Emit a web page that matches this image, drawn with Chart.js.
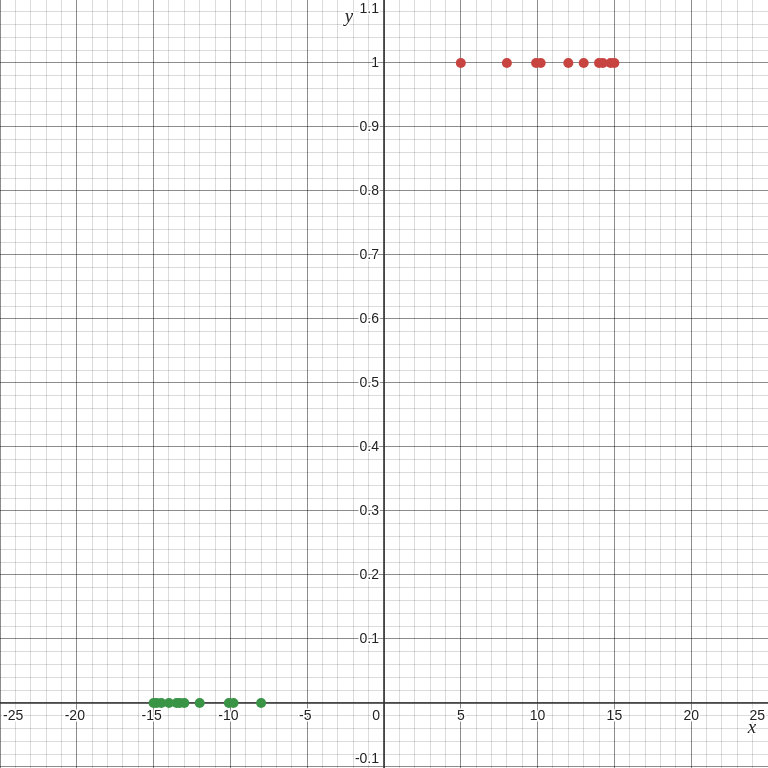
<!DOCTYPE html>
<html>
<head>
<meta charset="utf-8">
<script src="https://cdn.jsdelivr.net/npm/chart.js@4"></script>
<style>
html,body{margin:0;padding:0;background:#fff;}
#wrap{width:768px;height:768px;position:relative;}
</style>
</head>
<body>
<div id="wrap"><canvas id="c" width="768" height="768"></canvas></div>
<script>
// Data
const redX = [5, 8, 9.9, 10.2, 12, 13, 14, 14.25, 14.75, 15];
const redY = [1, 1, 1, 1, 1, 1, 1, 1, 1, 1];
const greenX = [-15, -14.8, -14.5, -14, -13.5, -13.3, -13, -12, -10.1, -9.8, -8];
const greenY = [0, 0, 0, 0, 0, 0, 0, 0, 0, 0, 0];
const xTickLabels = ["-25", "-20", "-15", "-10", "-5", "0", "5", "10", "15", "20", "25"];
const yTickLabels = ["-0.1", "0.1", "0.2", "0.3", "0.4", "0.5", "0.6", "0.7", "0.8", "0.9", "1", "1.1"];
const xRange = [-25, 25];
const yRange = [-0.1016, 1.0984];

const RED = '#c74440', GREEN = '#3a9446';

function pts(xs, ys){ return xs.map((x,i)=>({x:x, y:ys[i]})); }

function isMajor(v, step){ const r = v/step; return Math.abs(r - Math.round(r)) < 1e-6; }

const gridPlugin = {
  id: 'desmosAxes',
  beforeDatasetsDraw(chart){
    const ctx = chart.ctx;
    const xs = chart.scales.x, ys = chart.scales.y;
    const x0 = xs.getPixelForValue(0), y0 = ys.getPixelForValue(0);
    const W = chart.width, H = chart.height;
    ctx.save();
    ctx.strokeStyle = '#333';
    ctx.lineWidth = 1.6;
    ctx.beginPath(); ctx.moveTo(x0, 0); ctx.lineTo(x0, H); ctx.stroke();
    ctx.beginPath(); ctx.moveTo(0, y0); ctx.lineTo(W, y0); ctx.stroke();
    ctx.restore();
  },
  afterDraw(chart){
    const ctx = chart.ctx;
    const xs = chart.scales.x, ys = chart.scales.y;
    const x0 = xs.getPixelForValue(0), y0 = ys.getPixelForValue(0);
    const W = chart.width, H = chart.height;
    ctx.save();
    ctx.font = '14px "Liberation Sans", Arial, sans-serif';
    ctx.lineJoin = 'round';
    ctx.fillStyle = '#222';
    ctx.strokeStyle = '#fff';
    ctx.lineWidth = 3;
    // x labels
    ctx.textBaseline = 'top';
    xTickLabels.forEach(t => {
      const v = parseFloat(t);
      let px = xs.getPixelForValue(v);
      const w = ctx.measureText(t).width;
      let left;
      if (v === 0) { left = px - 4 - w; }
      else left = px - w/2 - (v < 0 ? 2 : 0);
      left = Math.max(3, Math.min(W - w - 3, left));
      ctx.textAlign = 'left';
      ctx.strokeText(t, left, y0 + 6);
      ctx.fillText(t, left, y0 + 6);
    });
    // y labels
    ctx.textBaseline = 'middle';
    ctx.textAlign = 'right';
    yTickLabels.forEach(t => {
      const v = parseFloat(t);
      let py = ys.getPixelForValue(v);
      py = Math.max(9, Math.min(H - 9, py));
      ctx.strokeText(t, x0 - 5, py);
      ctx.fillText(t, x0 - 5, py);
    });
    // axis titles
    ctx.font = 'italic 19px "Liberation Serif", "Times New Roman", serif';
    ctx.textAlign = 'center';
    ctx.textBaseline = 'middle';
    ctx.fillStyle = '#222';
    ctx.strokeText('x', W - 16, y0 + 25);
    ctx.fillText('x', W - 16, y0 + 25);
    ctx.strokeText('y', x0 - 35, 17);
    ctx.fillText('y', x0 - 35, 17);
    ctx.restore();
  }
};

new Chart(document.getElementById('c'), {
  type: 'scatter',
  data: {
    datasets: [
      { data: pts(greenX, greenY), backgroundColor: GREEN, borderColor: GREEN, pointRadius: 5, pointHoverRadius: 5, borderWidth: 0 },
      { data: pts(redX, redY), backgroundColor: RED, borderColor: RED, pointRadius: 5, pointHoverRadius: 5, borderWidth: 0 }
    ]
  },
  options: {
    responsive: false,
    animation: false,
    devicePixelRatio: 1,
    layout: { padding: 0, autoPadding: false },
    plugins: { legend: { display: false }, tooltip: { enabled: false } },
    scales: {
      x: {
        type: 'linear', min: xRange[0], max: xRange[1],
        afterBuildTicks(scale){ const t=[]; for(let i=-25;i<=25;i++) t.push({value:i}); scale.ticks=t; },
        afterFit(scale){ scale.height = 0; },
        ticks: { display: false },
        border: { display: false },
        grid: { drawTicks: false, lineWidth: 1,
          color: c => isMajor(c.tick.value, 5) ? 'rgba(0,0,0,0.45)' : 'rgba(0,0,0,0.14)' }
      },
      y: {
        type: 'linear', min: yRange[0], max: yRange[1],
        afterBuildTicks(scale){ const t=[]; for(let i=-5;i<=54;i++) t.push({value:i*0.02}); scale.ticks=t; },
        afterFit(scale){ scale.width = 0; },
        ticks: { display: false },
        border: { display: false },
        grid: { drawTicks: false, lineWidth: 1,
          color: c => isMajor(c.tick.value, 0.1) ? 'rgba(0,0,0,0.45)' : 'rgba(0,0,0,0.14)' }
      }
    }
  },
  plugins: [gridPlugin]
});
</script>
</body>
</html>
